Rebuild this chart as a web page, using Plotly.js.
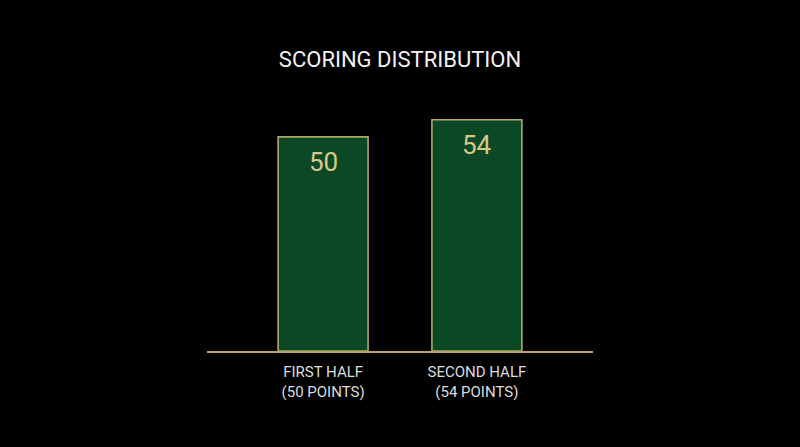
<!DOCTYPE html>
<html>
<head>
<meta charset="utf-8">
<script src="https://cdn.plot.ly/plotly-3.0.1.min.js"></script>
<style>
  html, body { margin: 0; padding: 0; background: #000; }
  #plot { width: 800px; height: 447px; }
</style>
</head>
<body>
<div id="plot"></div>
<script>
var categories = ['FIRST HALF<br>(50 POINTS)', 'SECOND HALF<br>(54 POINTS)'];
var points = [50, 54];
var value_labels = ['50', '54'];

var gold = '#b3a46a';

var bar_trace = {
   type: 'bar',
   x: categories,
   y: points,
   width: 0.585,
   hoverinfo: 'x+y',
   marker: {
      color: '#0b4825',
      line: {width: 1.6, color: gold}
   }
};

var value_annotations = categories.map(function (c, i) {
   return {
      x: c,
      y: points[i],
      text: value_labels[i],
      showarrow: false,
      yanchor: 'top',
      yshift: -8,
      font: {family: 'Roboto', size: 26, color: '#d8c888'}
   };
});

Plotly.newPlot('plot', [bar_trace], {
   width: 800,
   height: 447,
   paper_bgcolor: '#000',
   plot_bgcolor: '#000',
   margin: {l: 207, r: 207, t: 100, b: 96},
   showlegend: false,
   title: {
      text: 'SCORING DISTRIBUTION',
      font: {family: 'Roboto', size: 22, color: '#f2f2f2'},
      x: 0.5,
      xanchor: 'center',
      y: 0.868,
      yanchor: 'middle'
   },
   xaxis: {
      type: 'category',
      range: [-0.755, 1.755],
      showgrid: false,
      zeroline: false,
      showline: true,
      linecolor: gold,
      linewidth: 2,
      ticks: '',
      ticklabelstandoff: 6,
      tickfont: {family: 'Roboto', size: 15, color: '#dcdcdc'}
   },
   yaxis: {
      range: [0, 58.6],
      showgrid: false,
      zeroline: false,
      showline: false,
      showticklabels: false,
      ticks: ''
   },
   annotations: value_annotations
}, {displayModeBar: false});
</script>
</body>
</html>
